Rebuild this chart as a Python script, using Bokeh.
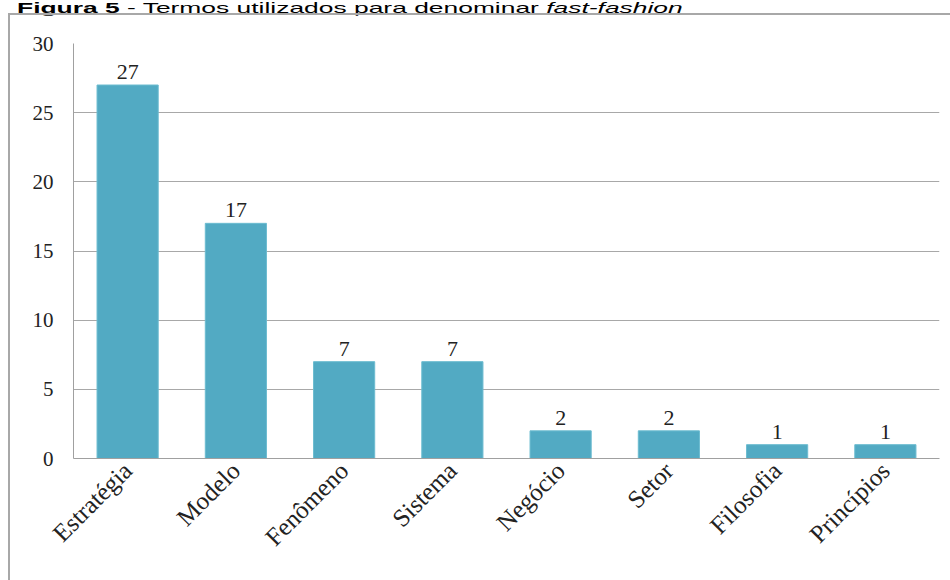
import math
from bokeh.plotting import figure
from bokeh.layouts import column
from bokeh.models import ColumnDataSource, LabelSet, FixedTicker, Div
from bokeh.embed import file_html
from bokeh.resources import INLINE

categories = ["Estratégia", "Modelo", "Fenômeno", "Sistema", "Negócio", "Setor", "Filosofia", "Princípios"]
counts = [27, 17, 7, 7, 2, 2, 1, 1]
y_ticks = [0, 5, 10, 15, 20, 25, 30]
title_bold = "Figura 5"
title_mid = " - Termos utilizados para denominar "
title_italic = "fast-fashion"

source = ColumnDataSource(data=dict(cat=categories, n=counts, lbl=[str(v) for v in counts]))

title_html = (
    '<div style="white-space:nowrap; font-family:\'Liberation Sans\', Arial, sans-serif; '
    'font-size:15px; line-height:14px; margin:0; padding:0; color:#000; position:relative; top:1px; '
    'transform:scaleX(1.76); transform-origin:0 0;">'
    f'<b>{title_bold}</b>{title_mid}<i>{title_italic}</i></div>'
)
title_div = Div(text=title_html, width=900, height=13, margin=(0, 0, 0, 17),
                styles={"overflow": "visible"})

p = figure(x_range=categories, y_range=(0, 30), width=942, height=567,
           output_backend="svg", toolbar_location=None, margin=(0, 0, 0, 8),
           min_border_left=63, min_border_right=13, min_border_top=28, min_border_bottom=124)
p.styles = {"border-left": "2px solid #a8a8a8", "border-top": "2px solid #a8a8a8",
            "box-sizing": "border-box"}
p.background_fill_color = "white"
p.border_fill_color = "white"
p.outline_line_color = None

p.vbar(x="cat", top="n", width=0.565, source=source, fill_color="#52aac3", line_color="#6cbcd0")

labels = LabelSet(x="cat", y="n", text="lbl", source=source, y_offset=6,
                  text_align="center", text_baseline="bottom",
                  text_font="Liberation Serif", text_font_size="22px", text_color="#222222")
p.add_layout(labels)

p.xgrid.grid_line_color = None
p.ygrid.grid_line_color = "#a8a8a8"
p.ygrid.grid_line_width = 1
p.yaxis.ticker = FixedTicker(ticks=y_ticks)

for ax in (p.xaxis[0], p.yaxis[0]):
    ax.axis_line_color = "#a0a0a0"
    ax.major_tick_line_color = None
    ax.minor_tick_line_color = None
    ax.major_tick_out = 0
    ax.major_tick_in = 0
    ax.major_label_text_font = "Liberation Serif"
    ax.major_label_text_color = "#222222"

p.yaxis.major_label_text_font_size = "21px"
p.yaxis.major_label_standoff = 20
p.xaxis.major_label_text_font_size = "25px"
p.xaxis.major_label_orientation = math.pi / 4
p.xaxis.major_label_standoff = 8

layout = column(title_div, p, spacing=0)

open("out.html", "w").write(file_html(layout, INLINE))
